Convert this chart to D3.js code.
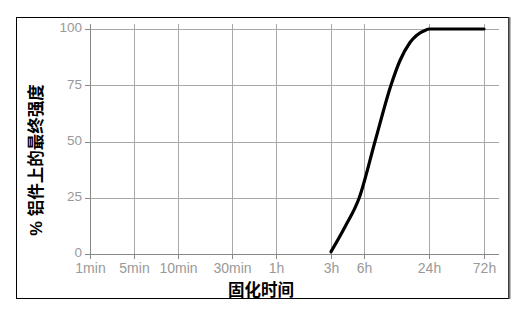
<!DOCTYPE html>
<meta charset="utf-8">
<style>
body { margin: 0; background: #fff; }
text { font-family: "Liberation Sans", Arial, "Noto Sans CJK SC", sans-serif; }
.grid line { stroke: #a8a8a8; stroke-width: 1; shape-rendering: crispEdges; }
.grid .domain { display: none; }
.axis line, .axis path { stroke: #888; shape-rendering: crispEdges; }
.axis text { fill: #999; font-size: 14px; }
.yaxis text { font-size: 13.5px; }
.curve { fill: none; stroke: #000; stroke-width: 3.2; stroke-linecap: round; }
.title { font-family: "Liberation Sans", "Noto Sans CJK SC", sans-serif; font-weight: bold; font-size: 16.5px; fill: #000; }
</style>
<svg id="chart" width="525" height="318"></svg>
<script src="https://cdn.jsdelivr.net/npm/d3@7"></script>
<script>

// x ticks: curing time, in minutes
const xTickLabels = ["1min", "5min", "10min", "30min", "1h", "3h", "6h", "24h", "72h"]
const xTickMinutes = [1, 5, 10, 30, 60, 180, 360, 1440, 4320]
const yTicks = [0, 25, 50, 75, 100]

// final strength curve (% of strength on aluminium part)
const curveMinutes = [180, 256, 334, 543, 808, 958, 1124, 1390, 1440, 4320]
const curveStrength = [1, 12, 25, 50, 75, 86, 94, 99.6, 100, 100]

const svg = d3.select("#chart")

// outer frame
svg.append("rect")
    .attr("x", 16.5).attr("y", 17.5)
    .attr("width", 492).attr("height", 281)
    .attr("fill", "none").attr("stroke", "#000")
svg.append("line")
    .attr("x1", 509.5).attr("x2", 509.5).attr("y1", 17).attr("y2", 299)
    .attr("stroke", "#777").attr("stroke-width", 2)

const plot = {left: 90, right: 499, top: 24, bottom: 254}

// the time axis is not uniform, so map each tick to its slot
const x = d3.scaleLinear()
    .domain(xTickMinutes)
    .range([90, 134, 178, 232, 276, 331, 364, 429, 484])

const y = d3.scaleLinear()
    .domain([0, 100])
    .range([254, 29])

// grid
svg.append("g")
    .attr("class", "grid")
    .attr("transform", `translate(${plot.left}, 0)`)
    .call(d3.axisLeft(y).tickValues(yTicks).tickSize(-(plot.right - plot.left)).tickFormat(""))

svg.append("g")
    .attr("class", "grid")
    .attr("transform", `translate(0, ${plot.bottom})`)
    .call(d3.axisBottom(x).tickValues(xTickMinutes).tickSize(-(plot.bottom - plot.top)).tickFormat(""))

// axes
const yAxisG = svg.append("g")
    .attr("class", "axis yaxis")
    .attr("transform", `translate(${plot.left}, 0)`)
    .call(d3.axisLeft(y).tickValues(yTicks).tickSize(5).tickSizeOuter(0).tickPadding(3))
yAxisG.select(".domain")
    .attr("d", `M0,${plot.top}V${plot.bottom + 5}`)
yAxisG.selectAll("text").attr("dy", "0.22em")

svg.append("g")
    .attr("class", "axis")
    .attr("transform", `translate(0, ${plot.bottom})`)
    .call(d3.axisBottom(x).tickValues(xTickMinutes)
      .tickFormat((d, i) => xTickLabels[i]).tickSize(5).tickSizeOuter(0).tickPadding(4))
  .select(".domain")
    .attr("d", `M${plot.left - 5},0H${plot.right}`)

svg.selectAll(".axis text").attr("font-family", null)

// curve, smoothed in screen space
const line = d3.line()
    .x(d => x(d[0]))
    .y(d => y(d[1]))
    .curve(d3.curveMonotoneX)

svg.append("path")
    .attr("class", "curve")
    .attr("d", line(curveMinutes.map((m, i) => [m, curveStrength[i]])))

// titles
svg.append("text")
    .attr("class", "title")
    .attr("x", 261).attr("y", 296)
    .attr("text-anchor", "middle")
    .text("固化时间")

svg.append("text")
    .attr("class", "title")
    .attr("transform", "translate(42, 160) rotate(-90)")
    .attr("text-anchor", "middle")
    .text("% 铝件上的最终强度")

</script>
